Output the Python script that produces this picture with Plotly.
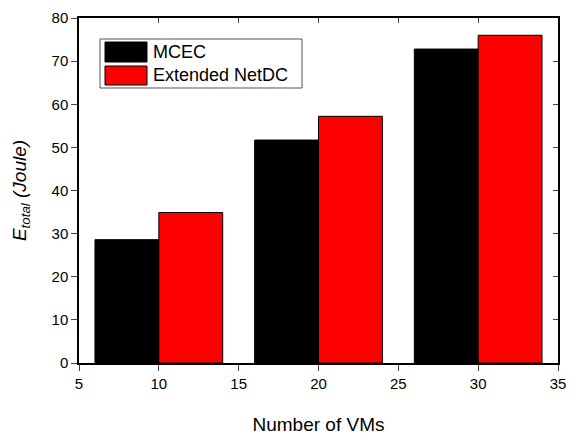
import plotly.graph_objects as go

# Energy consumption per number of VMs
vms = [10, 20, 30]
mcec = [28.6, 51.7, 72.8]
netdc = [34.9, 57.2, 76.0]
series_names = ["MCEC", "Extended NetDC"]
colors = ["#000000", "#ff0000"]

x_ticks = [5, 10, 15, 20, 25, 30, 35]
y_ticks = [0, 10, 20, 30, 40, 50, 60, 70, 80]

fig = go.Figure()
for name, vals, col, off in zip(series_names, [mcec, netdc], colors, [-4, 0]):
    fig.add_trace(go.Bar(
        x=vms, y=vals, name=name, width=4, offset=off,
        marker=dict(color=col, line=dict(color="#000000", width=1)),
        showlegend=False,
    ))

# invisible trace that carries the top/right mirror axes
fig.add_trace(go.Scatter(x=[5, 35], y=[0, 80], xaxis="x2", yaxis="y2",
                         mode="markers", marker=dict(opacity=0, size=1),
                         showlegend=False, hoverinfo="skip"))

font = dict(family="Liberation Sans, Arial, sans-serif", color="#000000")
fig.update_layout(
    width=578, height=435,
    margin=dict(l=79, r=20, t=18, b=72),
    paper_bgcolor="white", plot_bgcolor="white",
    font=dict(size=15, **font),
    xaxis=dict(range=[5, 35], tickvals=x_ticks, ticks="outside", ticklen=6,
               tickwidth=1.2, showline=True, linecolor="black", linewidth=1.5,
               showgrid=False, zeroline=False, automargin=False,
               title=dict(text="Number of VMs", font=dict(size=19), standoff=30)),
    yaxis=dict(range=[0, 80], tickvals=y_ticks, ticks="outside", ticklen=6,
               tickwidth=1.2, showline=True, linecolor="black", linewidth=1.5,
               showgrid=False, zeroline=False, automargin=False,
               title=dict(text="<i>E</i><sub><i>total</i></sub> <i>(Joule)</i>",
                          font=dict(size=19), standoff=20)),
    xaxis2=dict(range=[5, 35], tickvals=x_ticks, overlaying="x", side="top",
                ticks="inside", ticklen=5, tickwidth=1.2, showticklabels=False,
                showline=True, linecolor="black", linewidth=1.5, showgrid=False,
                zeroline=False),
    yaxis2=dict(range=[0, 80], tickvals=y_ticks, overlaying="y", side="right",
                ticks="inside", ticklen=5, tickwidth=1.2, showticklabels=False,
                showline=True, linecolor="black", linewidth=1.5, showgrid=False,
                zeroline=False),
    showlegend=False,
)

# legend box drawn in paper coordinates
pw, ph = 578 - 79 - 20, 435 - 18 - 72
def px(x):
    return (x - 79) / pw
def py(y):
    return (435 - 72 - y) / ph

shapes = [dict(type="rect", xref="paper", yref="paper",
               x0=px(100), x1=px(302), y0=py(88), y1=py(39),
               line=dict(color="#555555", width=1), fillcolor="white")]
rows = [(42, 62), (66, 85)]
for (top, bot), col, name in zip(rows, colors, series_names):
    shapes.append(dict(type="rect", xref="paper", yref="paper",
                       x0=px(105), x1=px(147), y0=py(bot), y1=py(top),
                       line=dict(color="#000000", width=1), fillcolor=col))
    fig.add_annotation(xref="paper", yref="paper", x=px(151), y=py((top + bot) / 2),
                       text=name, showarrow=False, xanchor="left", yanchor="middle",
                       font=dict(size=18, **font))
fig.update_layout(shapes=shapes)

fig.write_html("out.html")
